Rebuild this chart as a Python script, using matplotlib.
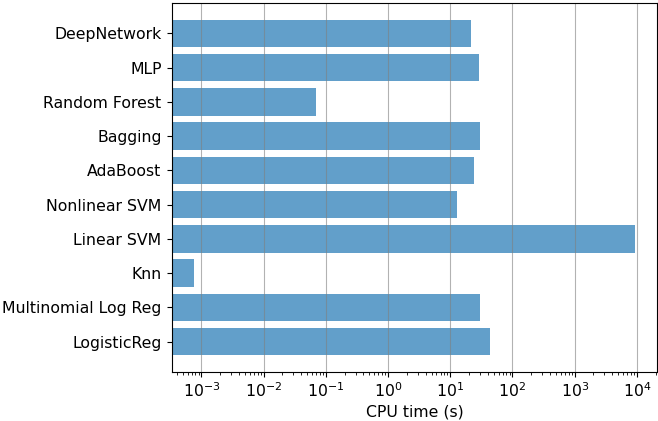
import matplotlib
matplotlib.use('Agg')
import matplotlib.pyplot as plt

# Modelos (de baixo para cima) e tempos de CPU em segundos
modelos = ['LogisticReg', 'Multinomial Log Reg', 'Knn', 'Linear SVM', 'Nonlinear SVM',
           'AdaBoost', 'Bagging', 'Random Forest', 'MLP', 'DeepNetwork']
cpu_time = [43.4, 29.6, 7.6e-4, 9300, 12.6, 23.7, 30.0, 0.069, 28.9, 21.8]

plt.rcParams['font.size'] = 11.3

fig = plt.figure(figsize=(6.58, 4.21), dpi=100)
ax = fig.add_axes([172 / 658, 1 - 372 / 421, 485 / 658, 369 / 421])
ax.barh(modelos, cpu_time, color='#1f77b4', alpha=0.7)
ax.set_xscale('log')
ax.set_xlabel('CPU time (s)', labelpad=3)
ax.tick_params(axis='y', pad=4)
ax.grid(axis='x', color='gray', alpha=0.6)

fig.savefig('out.png')
